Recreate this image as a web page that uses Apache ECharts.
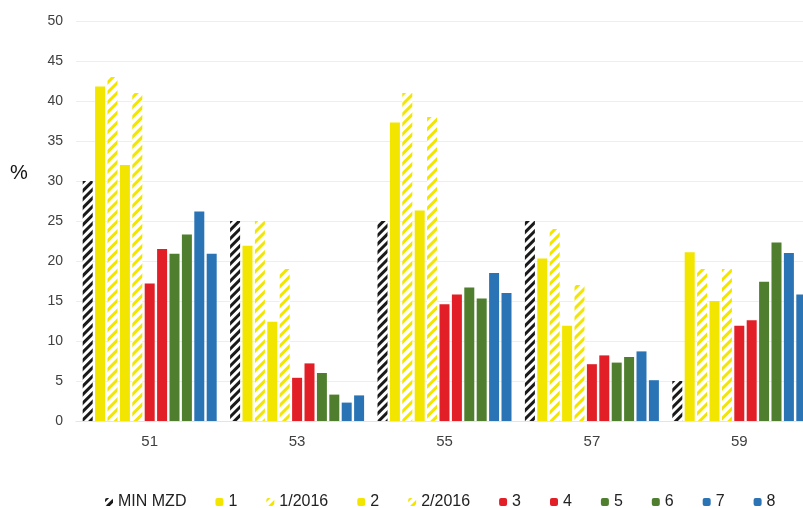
<!DOCTYPE html>
<html>
<head>
<meta charset="utf-8">
<script src="https://cdn.jsdelivr.net/npm/echarts@6/dist/echarts.min.js"></script>
<style>
  html, body { margin: 0; padding: 0; background: #fff; }
  #main { width: 803px; height: 508px; }
</style>
</head>
<body>
<div id="main"></div>
<script>
// categories and y ticks
var categories = ['51', '53', '55', '57', '59'];
var yMin = 0, yMax = 50, yStep = 5;

// series values, one array per legend entry
var minMzd   = [30, 25, 25, 25, 5];
var s1       = [41.8, 21.9, 37.3, 20.3, 21.1];
var s1_2016  = [43, 25, 41, 24, 19];
var s2       = [32, 12.4, 26.3, 11.9, 15];
var s2_2016  = [41, 19, 38, 17, 19];
var s3       = [17.2, 5.4, 14.6, 7.1, 11.9];
var s4       = [21.5, 7.2, 15.8, 8.2, 12.6];
var s5       = [20.9, 6.0, 16.7, 7.3, 17.4];
var s6       = [23.3, 3.3, 15.3, 8.0, 22.3];
var s7       = [26.2, 2.3, 18.5, 8.7, 21.0];
var s8       = [20.9, 3.2, 16.0, 5.1, 15.8];

var YELLOW = '#F2E500', RED = '#E21F26', GREEN = '#4F7F2E', BLUE = '#2A74B5';

function solid(name, data, color) {
  return { name: name, type: 'bar', data: data, barWidth: 10, barGap: '24%',
           itemStyle: { color: color } };
}
function hatched(name, data, color, dash) {
  return { name: name, type: 'bar', data: data, barWidth: 10, barGap: '24%',
           itemStyle: {
             color: '#ffffff',
             decal: { symbol: 'rect', color: color, dashArrayX: [1, 0],
                      dashArrayY: dash, rotation: -Math.PI / 4 }
           } };
}

var myChart = echarts.init(document.getElementById('main'));
myChart.setOption({
  animation: false,
  // plot runs past the right edge, like the cropped original
  grid: { left: 76, top: 21, width: 737, bottom: 87, containLabel: false, outerBoundsMode: 'none' },
  legend: {
    left: 100, top: 489, itemWidth: 8, itemHeight: 8, itemGap: 29,
    textStyle: { fontFamily: 'Liberation Sans, Arial', fontSize: 16, color: '#222' },
    data: ['MIN MZD', '1', '1/2016', '2', '2/2016', '3', '4', '5', '6', '7', '8']
  },
  graphic: [{
    type: 'text', left: 10, top: 163,
    style: { text: '%', fontFamily: 'Liberation Sans, Arial', fontSize: 20, fill: '#111' }
  }],
  xAxis: {
    type: 'category', data: categories,
    axisTick: { show: false },
    axisLine: { lineStyle: { color: '#e4e4e4' } },
    axisLabel: { margin: 13, fontFamily: 'Liberation Sans, Arial', fontSize: 15, color: '#404040' }
  },
  yAxis: {
    type: 'value', min: yMin, max: yMax, interval: yStep,
    axisLine: { show: false }, axisTick: { show: false },
    splitLine: { lineStyle: { color: '#eeeeee' } },
    axisLabel: { margin: 13, fontFamily: 'Liberation Sans, Arial', fontSize: 14, color: '#404040' }
  },
  series: [
    hatched('MIN MZD', minMzd, '#1a1a1a', [3, 3]),
    solid('1', s1, YELLOW),
    hatched('1/2016', s1_2016, YELLOW, [2.5, 3.5]),
    solid('2', s2, YELLOW),
    hatched('2/2016', s2_2016, YELLOW, [2.5, 3.5]),
    solid('3', s3, RED),
    solid('4', s4, RED),
    solid('5', s5, GREEN),
    solid('6', s6, GREEN),
    solid('7', s7, BLUE),
    solid('8', s8, BLUE)
  ]
});
</script>
</body>
</html>
